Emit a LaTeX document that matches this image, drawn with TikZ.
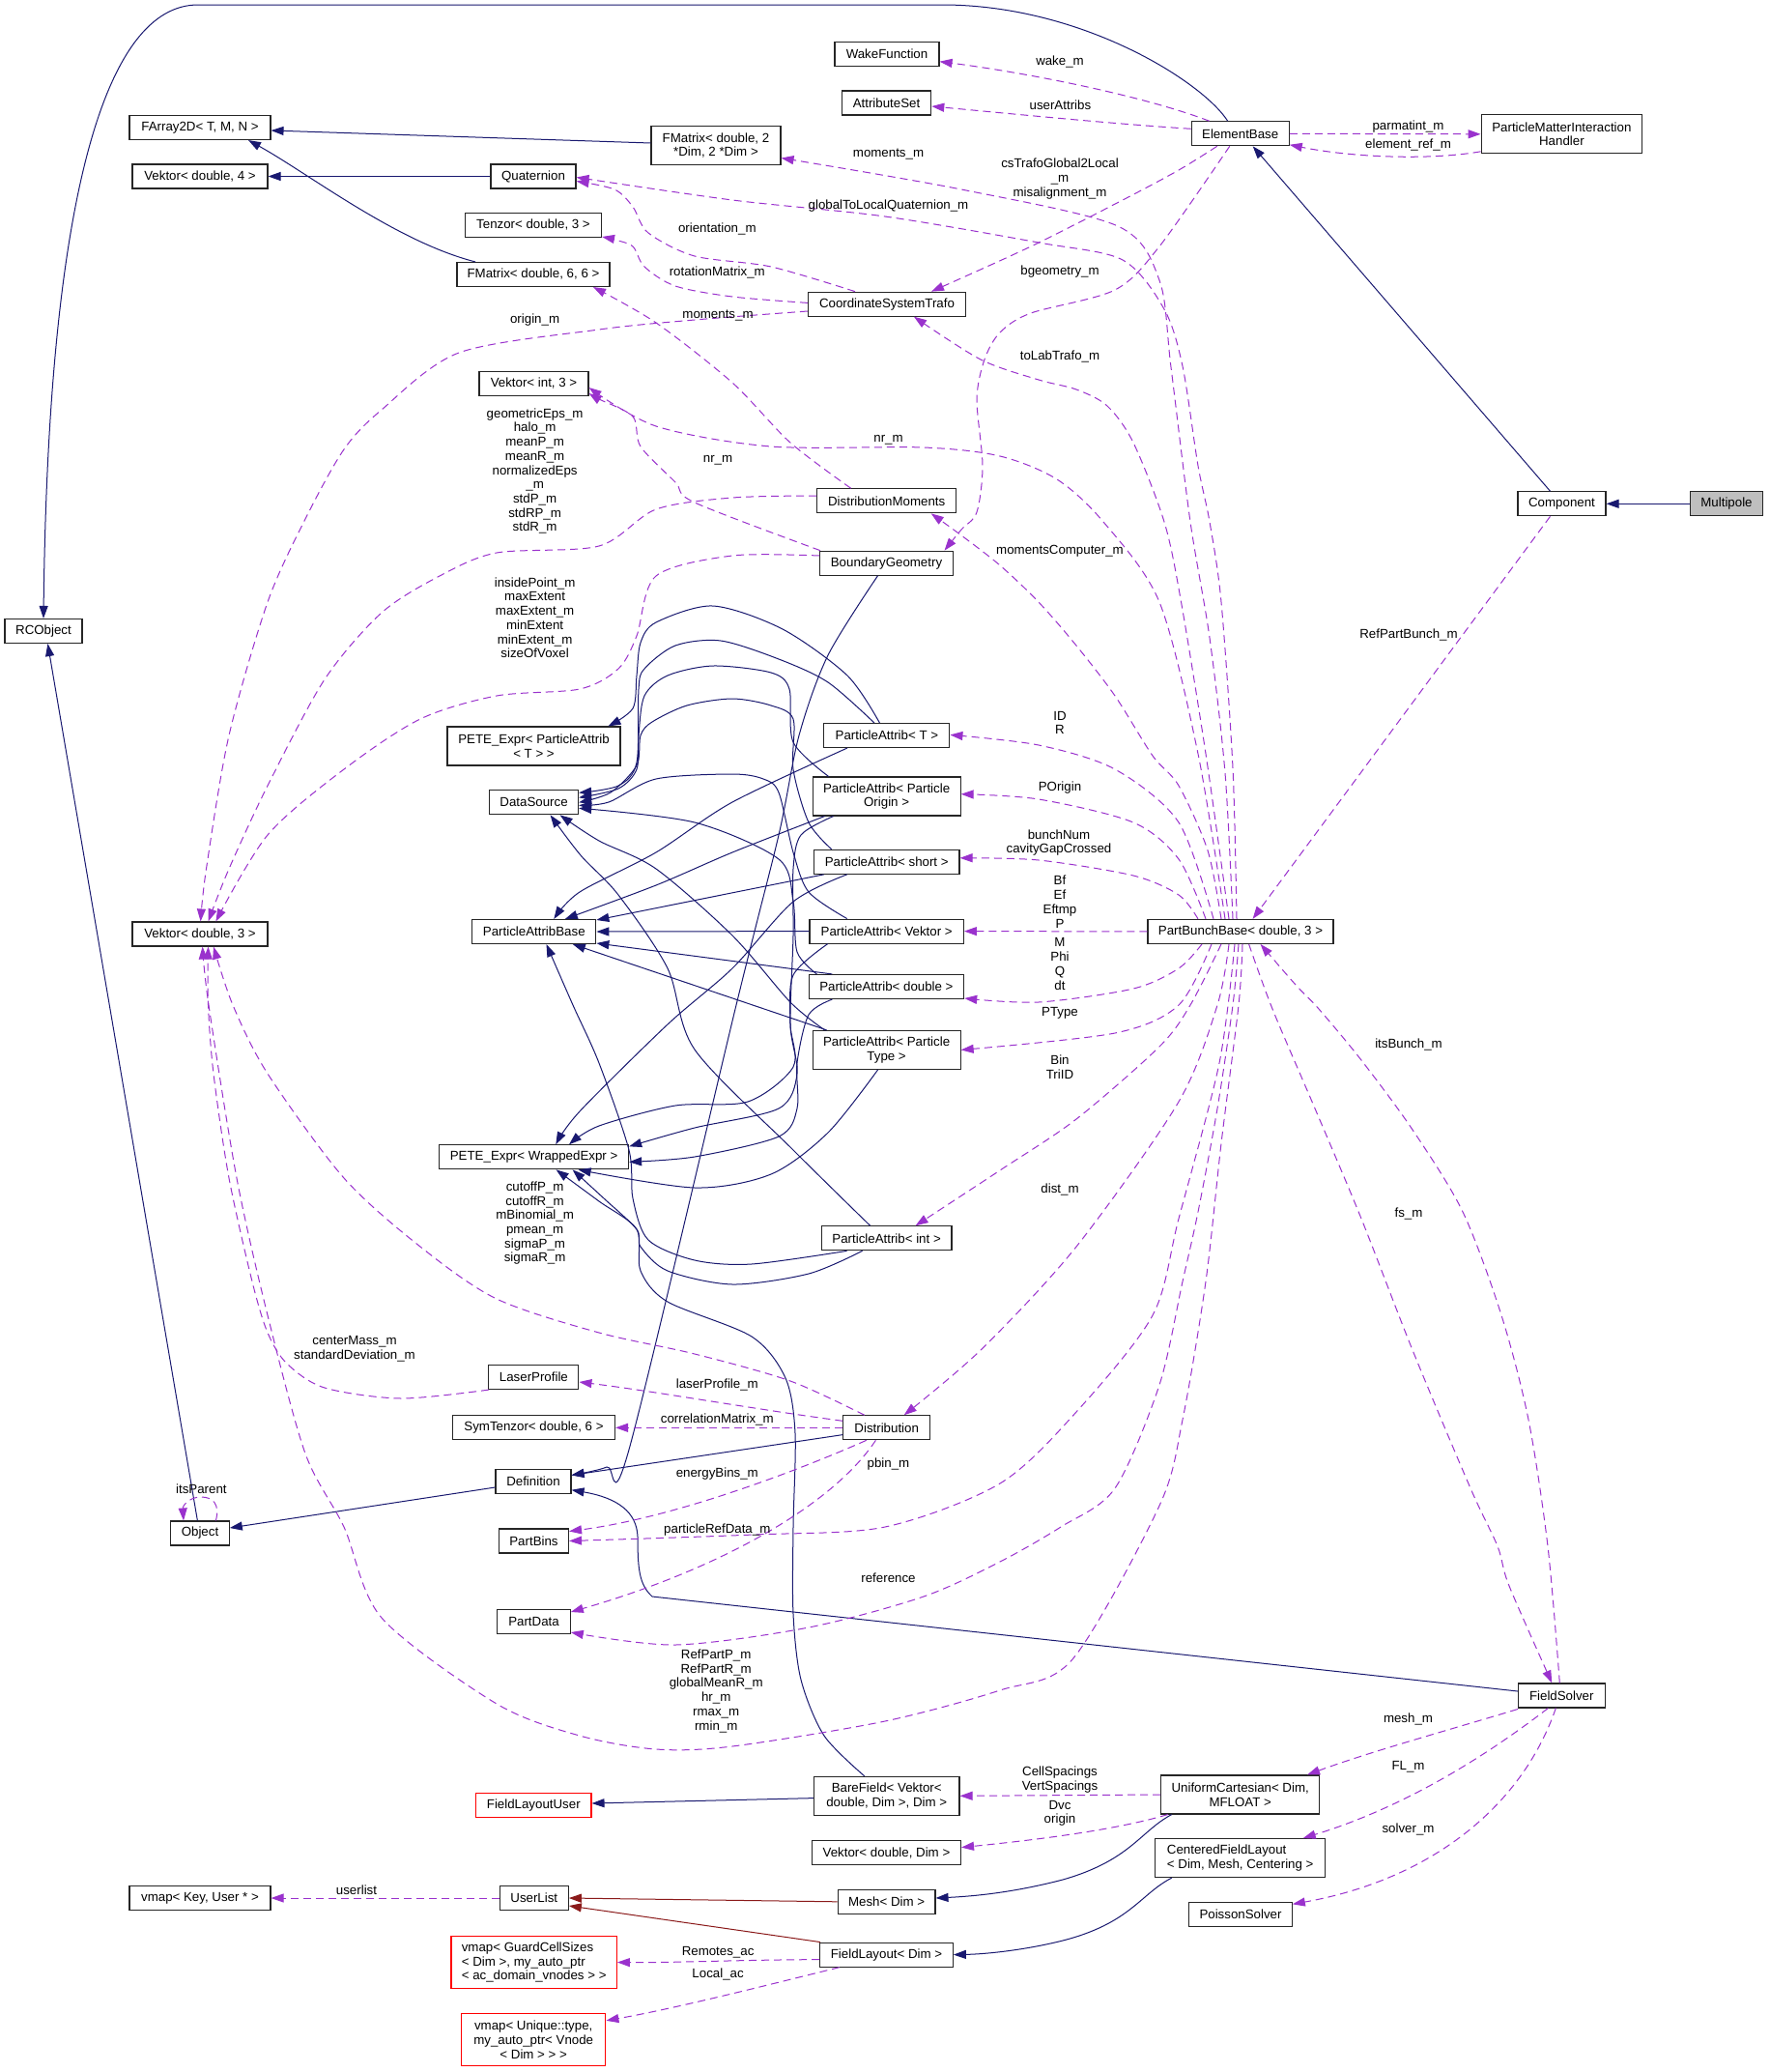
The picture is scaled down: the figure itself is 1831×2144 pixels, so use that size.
\documentclass[tikz,border=0pt]{standalone}
\usepackage{fontspec}
\setmainfont{Liberation Sans}
\usetikzlibrary{arrows.meta}
\definecolor{inhc}{HTML}{191970}
\definecolor{usec}{HTML}{9A32CD}
\definecolor{tplc}{HTML}{8B1A1A}
\newcommand{\dgfont}{\fontsize{13.3}{14.7}\selectfont}
\tikzset{
 box/.style={draw=black!85, line width=1.1pt, fill=white, minimum height=25pt, inner sep=0pt, align=center, font=\dgfont},
 boxtwo/.style={box, minimum height=40pt},
 redbox/.style={box, draw=red},
 lbl/.style={inner sep=0pt, align=center, font=\dgfont},
 inh/.style={draw=inhc, line width=1pt, -{Triangle[length=13pt,width=9pt]}},
 use/.style={draw=usec, line width=1pt, dash pattern=on 8pt off 5pt, -{Triangle[length=13pt,width=9pt]}},
 tpl/.style={draw=tplc, line width=1pt, -{Triangle[length=13pt,width=9pt]}},
}
\begin{document}
\begin{tikzpicture}[x=1pt,y=-1pt]
\fill[white] (0,0) rectangle (1831,2144);
\useasboundingbox (0,0) rectangle (1831,2144);
% ---------------- nodes
\node[box, minimum width=80] (rco) at (45,653) {RCObject};
\node[box, minimum width=146] (farr) at (207,132) {FArray2D< T, M, N >};
\node[box, minimum width=140] (v4) at (207,182.5) {Vektor< double, 4 >};
\node[box, minimum width=140] (v3) at (207,966.5) {Vektor< double, 3 >};
\node[box, minimum width=60.5] (obj) at (207,1586.5) {Object};
\node[box, minimum width=146] (vmapk) at (207,1964) {vmap< Key, User * >};
\node[box, minimum width=88] (quat) at (552,182.5) {Quaternion};
\node[box, minimum width=141] (tenz) at (552,233) {Tenzor< double, 3 >};
\node[box, minimum width=158] (fm66) at (552,284) {FMatrix< double, 6, 6 >};
\node[box, minimum width=113] (vint) at (552.5,397) {Vektor< int, 3 >};
\node[boxtwo, minimum width=179] (pete) at (552.5,772) {PETE\_Expr< ParticleAttrib\\< T > >};
\node[box, minimum width=92] (ds) at (552.6,830.3) {DataSource};
\node[box, minimum width=128] (pab) at (552.8,964) {ParticleAttribBase};
\node[box, minimum width=196] (pw) at (552.6,1197.3) {PETE\_Expr< WrappedExpr >};
\node[box, minimum width=93] (laser) at (552.4,1425) {LaserProfile};
\node[box, minimum width=168] (symt) at (552.5,1477.3) {SymTenzor< double, 6 >};
\node[box, minimum width=78] (defn) at (552,1533) {Definition};
\node[box, minimum width=72] (pbins) at (552.5,1594.5) {PartBins};
\node[box, minimum width=75.5] (pdata) at (552.5,1678.4) {PartData};
\node[redbox, minimum width=119.4] (flu) at (552.3,1868) {FieldLayoutUser};
\node[box, minimum width=71] (ul) at (552.8,1964) {UserList};
\node[redbox, minimum height=54, minimum width=171.4, align=left] (vmapg) at (552.7,2030.5) {vmap< GuardCellSizes\\< Dim >, my\_auto\_ptr\\< ac\_domain\_vnodes > >};
\node[redbox, minimum height=54, minimum width=149.3] (vmapu) at (552.2,2110.5) {vmap< Unique::type,\\my\_auto\_ptr< Vnode\\< Dim > > >};
\node[box, minimum width=108] (wake) at (918,56) {WakeFunction};
\node[box, minimum width=92.5] (attr) at (917.5,106.5) {AttributeSet};
\node[boxtwo, minimum width=134] (fm2) at (741,150.5) {FMatrix< double, 2\\ *Dim, 2 *Dim >};
\node[box, minimum width=163] (cst) at (918,314.7) {CoordinateSystemTrafo};
\node[box, minimum width=144] (dm) at (917.7,518.3) {DistributionMoments};
\node[box, minimum width=137.6] (bg) at (917.5,582.7) {BoundaryGeometry};
\node[box, minimum width=130] (paT) at (917.9,761) {ParticleAttrib< T >};
\node[boxtwo, minimum width=153] (paO) at (917.6,824) {ParticleAttrib< Particle\\Origin >};
\node[box, minimum width=150.6] (paS) at (917.7,891.8) {ParticleAttrib< short >};
\node[box, minimum width=159.4] (paV) at (917.7,963.6) {ParticleAttrib< Vektor >};
\node[box, minimum width=160.5] (paD) at (917.4,1021) {ParticleAttrib< double >};
\node[boxtwo, minimum width=153] (paPT) at (917.6,1086.4) {ParticleAttrib< Particle\\Type >};
\node[box, minimum width=134.8] (paI) at (917.6,1281.3) {ParticleAttrib< int >};
\node[box, minimum width=89.8] (dist) at (917.7,1477.3) {Distribution};
\node[boxtwo, minimum width=150.6] (bf) at (917.7,1858.3) {BareField< Vektor<\\double, Dim >, Dim >};
\node[box, minimum width=154] (vdim) at (917.5,1917.2) {Vektor< double, Dim >};
\node[box, minimum width=100.8] (mesh) at (917.6,1967.8) {Mesh< Dim >};
\node[box, minimum width=137.6] (fl) at (917.5,2022.6) {FieldLayout< Dim >};
\node[box, minimum width=101] (eb) at (1283.7,138.3) {ElementBase};
\node[box, minimum width=192] (pbb) at (1284,963.9) {PartBunchBase< double, 3 >};
\node[boxtwo, minimum width=164] (uc) at (1283.7,1857) {UniformCartesian< Dim,\\MFLOAT >};
\node[boxtwo, minimum width=176, align=left] (cfl) at (1283.7,1922.6) {CenteredFieldLayout\\< Dim, Mesh, Centering >};
\node[box, minimum width=106.6] (ps) at (1284,1981) {PoissonSolver};
\node[boxtwo, minimum width=166.6] (pmih) at (1616.4,138.8) {ParticleMatterInteraction\\Handler};
\node[box, minimum width=91] (comp) at (1616.5,521.3) {Component};
\node[box, minimum width=75.7, fill=black!25] (mp) at (1787,521.3) {Multipole};
\node[box, minimum width=89.7] (fs) at (1616.3,1754.5) {FieldSolver};
% ---------------- inheritance
\draw[inh] (mp.west) -- (comp.east);
\draw[inh] ([xshift=-12pt]comp.north) -- ([xshift=13pt]eb.south);
\draw[inh] ([xshift=-13pt]eb.north) .. controls (1245,85) and (1120,5) .. (975,5) -- (205,5) .. controls (110,5) and (50,200) .. (rco.north);
\draw[inh] ([yshift=2.5pt]fm2.west) -- ([yshift=-3pt]farr.east);
\draw[inh] ([xshift=-60pt]fm66.north) .. controls (410,250) and (320,180) .. ([xshift=50pt]farr.south);
\draw[inh] (quat.west) -- (v4.east);
\draw[inh] ([xshift=-2.6pt]obj.north) -- ([xshift=4.4pt]rco.south);
\draw[inh] ([yshift=-6pt]defn.west) -- ([yshift=5.5pt]obj.east);
\draw[inh] ([yshift=-7.3pt]dist.west) -- ([yshift=6.6pt]defn.east);
\draw[inh] plot[smooth] coordinates {([xshift=-9pt]bg.south) (857,678) (827,761) (806,864) (762,1040) (651,1500) (628,1518) ([yshift=6.6pt]defn.east)};
\draw[inh] ([yshift=4.5pt]fs.west) -- (675,1652) .. controls (662,1640) and (660,1625) .. (660,1590) .. controls (659,1565) and (640,1550) .. ([yshift=-8.7pt]defn.east);
% ParticleAttrib -> PETE / DataSource
\draw[inh] plot[smooth] coordinates {([xshift=-7.5pt]paT.north) (877,699) (810,651) (738,627) (679,644) (663,665) (659,699) (655,733) ([xshift=77pt]pete.north)};
\draw[inh] plot[smooth] coordinates {([xshift=-13pt]paT.north) (857,706) (806,682) (746,663) (699,668) (667,692) (661,713) (659,789) (640,813) ([yshift=10pt]ds.east)};
\draw[inh] plot[smooth] coordinates {([xshift=-60pt]paO.north) (821,768) (817,713) (798,696) (738,689) (691,699) (667,720) (661,761) (659,796) (640,816) ([yshift=5pt]ds.east)};
\draw[inh] plot[smooth] coordinates {([xshift=-57pt]paS.north) (837,851) (821,796) (821,744) (798,730) (758,723) (711,730) (675,747) (663,761) (659,792) (632,820) (ds.east)};
\draw[inh] plot[smooth] coordinates {([xshift=-41pt]paV.north) (837,923) (821,882) (806,820) (790,806) (758,801) (679,806) (630,830) ([yshift=-3pt]ds.east)};
\draw[inh] plot[smooth] coordinates {([xshift=-72pt]paD.north) (825,985) (821,933) (806,889) (719,851) ([yshift=-6pt]ds.east)};
\draw[inh] plot[smooth] coordinates {([xshift=-64pt]paPT.north) (818,1037) (758,968) (679,899) (620,870) ([xshift=27pt]ds.south)};
\draw[inh] plot[smooth] coordinates {([xshift=-17pt]paI.north) (821,1190) (719,1086) (691,1002) (640,926) (601,885) ([xshift=17pt]ds.south)};
% ParticleAttrib -> ParticleAttribBase
\draw[inh] plot[smooth] coordinates {([xshift=-41pt]paT.south) (758,830) (679,882) (600,923) ([xshift=20.5pt]pab.north)};
\draw[inh] plot[smooth] coordinates {([xshift=-64pt]paO.south) (758,882) (679,916) ([xshift=32pt]pab.north)};
\draw[inh] ([xshift=-65pt]paS.south) -- ([yshift=12pt]pab.east);
\draw[inh] (paV.west) -- (pab.east);
\draw[inh] ([xshift=-56pt]paD.north) -- ([yshift=-12pt]pab.east);
\draw[inh] ([xshift=-62pt]paPT.north) -- ([xshift=40pt]pab.south);
\draw[inh] plot[smooth] coordinates {([xshift=-41pt]paI.south) (778,1308) (719,1304) (671,1283) (655,1240) (651,1190) (620,1100) (593,1040) ([xshift=12.7pt]pab.south)};
% -> PETE_Expr<WrappedExpr>
\draw[inh] plot[smooth] coordinates {([xshift=-41pt]paS.south) (821,933) (758,1002) (691,1060) (600,1150) ([xshift=22.7pt]pw.north)};
\draw[inh] plot[smooth] coordinates {([xshift=-61pt]paV.south) (821,1009) (818,1060) (821,1104) (774,1140) (699,1144) (620,1165) ([xshift=36.4pt]pw.north)};
\draw[inh] plot[smooth] coordinates {([xshift=-55pt]paO.south) (829,864) (821,899) (821,968) (818,1060) (825,1111) (806,1147) (719,1167) ([yshift=11pt]pw.east)};
\draw[inh] plot[smooth] coordinates {([xshift=-56pt]paD.south) (837,1050) (825,1100) (825,1147) (806,1176) (719,1197) ([yshift=-5pt]pw.east)};
\draw[inh] plot[smooth] coordinates {([xshift=-9pt]paPT.south) (857,1172) (798,1215) (719,1229) ([xshift=46pt]pw.south)};
\draw[inh] plot[smooth] coordinates {([xshift=-25pt]paI.south) (837,1318) (758,1329) (691,1315) (663,1290) (659,1272) (625,1240) ([xshift=40pt]pw.south)};
\draw[inh] plot[smooth] coordinates {([xshift=-23pt]bf.north) (853,1796) (829,1738) (821,1670) (821,1580) (823,1483) (813,1426) (778,1383) (691,1347) (663,1315) (659,1272) (620,1243) ([xshift=23pt]pw.south)};
\draw[inh] ([yshift=-2.3pt]bf.west) -- ([yshift=2pt]flu.east);
\draw[inh] ([xshift=-71pt]uc.south) .. controls (1180,1895) and (1170,1925) .. (1100,1945) .. controls (1050,1958) and (1010,1962) .. ([yshift=3.8pt]mesh.east);
\draw[inh] ([xshift=-71pt]cfl.south) .. controls (1180,1960) and (1170,1990) .. (1100,2008) .. controls (1060,2018) and (1020,2022) .. (fl.east);
\draw[tpl] (mesh.west) -- (ul.east);
\draw[tpl] ([xshift=-68.5pt]fl.north) -- ([yshift=-8pt]ul.east);
% ---------------- usage (dashed)
\draw[use] ([xshift=-32pt]eb.north) .. controls (1180,98) and (1060,75) .. ([yshift=-7.7pt]wake.east);
\draw[use] ([yshift=5pt]eb.west) .. controls (1150,128) and (1050,118) .. ([yshift=-3.5pt]attr.east);
\draw[use] (eb.east) -- (pmih.west);
\draw[use] ([yshift=-18pt]pmih.west) .. controls (1480,166) and (1400,163) .. ([yshift=-11.5pt]eb.east);
\draw[use] plot[smooth] coordinates {([xshift=-24pt]eb.south) (1220,176) (1162,207) (1067,255) ([xshift=46pt]cst.north)};
\draw[use] plot[smooth] coordinates {([xshift=-11pt]eb.south) (1200,255) (1154,300) (1067,324) (1035,344) (1019,372) (1011,413) (1017,482) (1011,530) (995,548) ([xshift=60pt]bg.north)};
\draw[use] plot[smooth] coordinates {([xshift=-8pt]pbb.north) (1268,800) (1252,660) (1232,540) (1212,380) (1200,290) (1157,234) (995,196) ([yshift=-13pt]fm2.east)};
\draw[use] plot[smooth] coordinates {([xshift=-4pt]pbb.north) (1276,795) (1264,623) (1252,540) (1240,482) (1224,379) (1205,320) (1162,269) (1075,251) (916,224) (758,207) ([yshift=-1pt]quat.east)};
\draw[use] plot[smooth] coordinates {([xshift=-12pt]pbb.north) (1248,780) (1222,620) (1205,540) (1173,458) (1146,420) (1114,403) (1075,393) (1015,372) ([xshift=28pt]cst.south)};
\draw[use] plot[smooth] coordinates {([xshift=-16pt]pbb.north) (1240,780) (1200,623) (1142,540) (1094,496) (1035,472) (956,463) (798,462) (679,441) ([yshift=-4pt]vint.east)};
\draw[use] plot[smooth] coordinates {([xshift=-68.5pt]bg.north) (719,520) (699,499) (663,462) (655,431) (620,413) ([yshift=-10pt]vint.east)};
\draw[use] plot[smooth] coordinates {([xshift=-20pt]pbb.north) (1250,880) (1220,813) (1193,782) (1154,720) (1114,668) (1075,623) (1035,585) (995,554) ([xshift=46pt]dm.south)};
\draw[use] plot[smooth] coordinates {([xshift=-28pt]pbb.north) (1220,851) (1154,796) (1075,771) ([yshift=0.6pt]paT.east)};
\draw[use] plot[smooth] coordinates {([xshift=-36pt]pbb.north) (1220,889) (1173,851) (1075,827) ([yshift=2.3pt]paO.east)};
\draw[use] plot[smooth] coordinates {([xshift=-44pt]pbb.north) (1220,926) (1173,906) (1075,890) ([yshift=4pt]paS.east)};
\draw[use] (pbb.west) -- (paV.east);
\draw[use] plot[smooth] coordinates {([xshift=-40pt]pbb.south) (1220,1002) (1173,1023) (1075,1037) ([yshift=-12pt]paD.east)};
\draw[use] plot[smooth] coordinates {([xshift=-30pt]pbb.south) (1220,1040) (1154,1069) (paPT.east)};
\draw[use] plot[smooth] coordinates {([xshift=-20pt]pbb.south) (1232,1040) (1200,1083) (1114,1158) (1035,1211) ([xshift=30pt]paI.north)};
\draw[use] plot[smooth] coordinates {([xshift=-12pt]pbb.south) (1260,1040) (1220,1140) (1114,1290) (1015,1397) ([xshift=18pt]dist.north)};
\draw[use] plot[smooth] coordinates {([xshift=-6pt]pbb.south) (1262,1100) (1220,1261) (1193,1361) (1114,1461) (1035,1535) (916,1580) (780,1588) (pbins.east)};
\draw[use] plot[smooth] coordinates {([xshift=-2pt]pbb.south) (1276,1040) (1260,1147) (1240,1254) (1224,1326) (1200,1433) (1154,1540) (1098,1580) (1035,1616) (956,1652) (837,1684) (699,1702) ([yshift=-10.6pt]pdata.east)};
\draw[use] plot[smooth] coordinates {([xshift=2pt]pbb.south) (1282,1040) (1264,1183) (1248,1326) (1224,1469) (1200,1558) (1110,1717) (1035,1749) (916,1781) (758,1807) (679,1810) (600,1796) (514,1763) (395,1674) (356,1580) (316,1504) (277,1361) (245,1219) (216,1040) ([xshift=2.6pt]v3.south)};
\draw[use] ([xshift=-12pt]comp.south) -- ([xshift=12.6pt]pbb.north);
\draw[use] plot[smooth] coordinates {([xshift=-2pt]fs.north) (1602,1600) (1582,1469) (1554,1361) (1514,1254) (1462,1169) (1409,1097) (1365,1044) (1341,1019) ([xshift=20.6pt]pbb.south)};
\draw[use] plot[smooth] coordinates {([xshift=8.6pt]pbb.south) (1317,1044) (1361,1147) (1409,1261) (1462,1397) (1522,1540) (1550,1600) (1562,1641) ([xshift=-10pt]fs.north)};
\draw[use] ([yshift=-14pt]fs.west) .. controls (1500,1790) and (1420,1812) .. ([xshift=69.3pt]uc.north);
\draw[use] ([xshift=-14pt]fs.south) .. controls (1560,1800) and (1470,1865) .. ([xshift=65pt]cfl.north);
\draw[use] ([xshift=-6pt]fs.south) .. controls (1575,1870) and (1480,1945) .. ([yshift=10.7pt]ps.east);
\draw[use] (uc.west) -- (bf.east);
\draw[use] ([xshift=-75pt]uc.south) .. controls (1150,1895) and (1060,1905) .. ([yshift=5.6pt]vdim.east);
\draw[use] ([yshift=-5pt]fl.west) .. controls (760,2028) and (700,2031) .. (vmapg.east);
\draw[use] ([xshift=-48.6pt]fl.south) .. controls (790,2055) and (700,2078) .. ([yshift=19.7pt]vmapu.east);
\draw[use] (ul.west) -- (vmapk.east);
\draw[use] ([yshift=7pt]dist.west) .. controls (780,1458) and (680,1440) .. ([yshift=-5pt]laser.east);
\draw[use] (dist.west) -- (symt.east);
\draw[use] ([xshift=-21pt]dist.south) .. controls (830,1520) and (700,1570) .. ([yshift=10pt]pbins.east);
\draw[use] ([xshift=-11.3pt]dist.south) .. controls (860,1560) and (740,1625) .. ([yshift=10.4pt]pdata.east);
\draw[use] plot[smooth] coordinates {([xshift=-46.4pt]laser.south) (415,1447) (336,1436) (297,1411) (277,1379) (261,1326) (237,1219) (221,1111) (215.5,1040) ([xshift=8.5pt]v3.south)};
\draw[use] plot[smooth] coordinates {([xshift=-23pt]dist.north) (818,1429) (719,1401) (620,1379) (514,1344) (435,1290) (356,1219) (277,1111) (241,1040) ([xshift=14pt]v3.south)};
\draw[use] plot[smooth] coordinates {([yshift=-7.3pt]cst.west) (719,331) (620,341) (475,365) (395,424) (356,465) (316,537) (277,623) (237,761) (213.5,899) ([xshift=0.6pt]v3.north)};
\draw[use] plot[smooth] coordinates {([yshift=5.3pt]dm.west) (758,515) (679,527) (620,565) (514,572) (455,596) (395,634) (336,703) (277,813) (237,899) ([xshift=8.5pt]v3.north)};
\draw[use] plot[smooth] coordinates {([yshift=7.7pt]bg.west) (758,575) (679,596) (659,658) (640,692) (600,713) (514,720) (435,744) (356,796) (277,864) ([xshift=16.4pt]v3.north)};
\draw[use] plot[smooth] coordinates {([xshift=-33pt]cst.north) (798,276) (719,265) (671,241) (655,214) (636,196) ([yshift=-5pt]quat.east)};
\draw[use] plot[smooth] coordinates {([yshift=1.3pt]cst.west) (758,307) (699,296) (667,276) (655,255) (636,248) ([yshift=-12pt]tenz.east)};
\draw[use] plot[smooth] coordinates {([xshift=-37pt]dm.north) (818,458) (758,396) (679,334) ([xshift=62pt]fm66.south)};
\draw[use] ([xshift=16.4pt]obj.north) .. controls (228,1556) and (220,1549) .. (208,1549) .. controls (196,1549) and (189,1558) .. ([xshift=-17pt]obj.north);
% ---------------- labels
\node[lbl] (l1) at (1097,63.7) {wake\_m};
\node[lbl] (l2) at (1097.4,108.8) {userAttribs};
\node[lbl] (l3) at (1457.5,130.9) {parmatint\_m};
\node[lbl] (l4) at (1457.5,150.5) {element\_ref\_m};
\node[lbl] (l5) at (919.5,159.8) {moments\_m};
\node[lbl] (l6) at (1097,185.1) {csTrafoGlobal2Local\\\_m\\misalignment\_m};
\node[lbl] (l7) at (919.5,212.8) {globalToLocalQuaternion\_m};
\node[lbl] (l8) at (742.3,237) {orientation\_m};
\node[lbl] (l9) at (742.3,282.4) {rotationMatrix\_m};
\node[lbl] (l10) at (1097,280.7) {bgeometry\_m};
\node[lbl] (l11) at (743,326.5) {moments\_m};
\node[lbl] (l12) at (553.6,330.6) {origin\_m};
\node[lbl] (l13) at (1097,368.5) {toLabTrafo\_m};
\node[lbl] (l14) at (919.5,455.6) {nr\_m};
\node[lbl] (l15) at (743,476) {nr\_m};
\node[lbl] (l16) at (553.6,487.5) {geometricEps\_m\\halo\_m\\meanP\_m\\meanR\_m\\normalizedEps\\\_m\\stdP\_m\\stdRP\_m\\stdR\_m};
\node[lbl] (l17) at (553.6,639.2) {insidePoint\_m\\maxExtent\\maxExtent\_m\\minExtent\\minExtent\_m\\sizeOfVoxel};
\node[lbl] (l18) at (1097,570.6) {momentsComputer\_m};
\node[lbl] (l19) at (1458,656.7) {RefPartBunch\_m};
\node[lbl] (l20) at (1097,748) {ID\\R};
\node[lbl] (l21) at (1097,815.5) {POrigin};
\node[lbl] (l22) at (1096,872) {bunchNum\\cavityGapCrossed};
\node[lbl] (l23) at (1097,933.2) {Bf\\Ef\\Eftmp\\P};
\node[lbl] (l24) at (1097,997.5) {M\\Phi\\Q\\dt};
\node[lbl] (l25) at (1097,1048.7) {PType};
\node[lbl] (l26) at (1458,1080.7) {itsBunch\_m};
\node[lbl] (l27) at (1097,1103.9) {Bin\\TriID};
\node[lbl] (l28) at (553.6,1265.7) {cutoffP\_m\\cutoffR\_m\\mBinomial\_m\\pmean\_m\\sigmaP\_m\\sigmaR\_m};
\node[lbl] (l29) at (1097,1231) {dist\_m};
\node[lbl] (l30) at (1458,1255.7) {fs\_m};
\node[lbl] (l31) at (367,1396) {centerMass\_m\\standardDeviation\_m};
\node[lbl] (l32) at (742.3,1432.8) {laserProfile\_m};
\node[lbl] (l33) at (742.3,1468.5) {correlationMatrix\_m};
\node[lbl] (l34) at (919.5,1515) {pbin\_m};
\node[lbl] (l35) at (742.3,1525) {energyBins\_m};
\node[lbl] (l36) at (208.4,1540.3) {itsParent};
\node[lbl] (l37) at (742.3,1582.8) {particleRefData\_m};
\node[lbl] (l38) at (919.5,1632.9) {reference};
\node[lbl] (l39) at (741.2,1749.8) {RefPartP\_m\\RefPartR\_m\\globalMeanR\_m\\hr\_m\\rmax\_m\\rmin\_m};
\node[lbl] (l40) at (1457.5,1778.6) {mesh\_m};
\node[lbl] (l41) at (1457.5,1828.5) {FL\_m};
\node[lbl] (l42) at (1097,1841.7) {CellSpacings\\VertSpacings};
\node[lbl] (l43) at (1097,1876.2) {Dvc\\origin};
\node[lbl] (l44) at (1457.5,1893) {solver\_m};
\node[lbl] (l45) at (369,1955.5) {userlist};
\node[lbl] (l46) at (743.1,2020.6) {Remotes\_ac};
\node[lbl] (l47) at (743.1,2043) {Local\_ac};
\end{tikzpicture}
\end{document}
